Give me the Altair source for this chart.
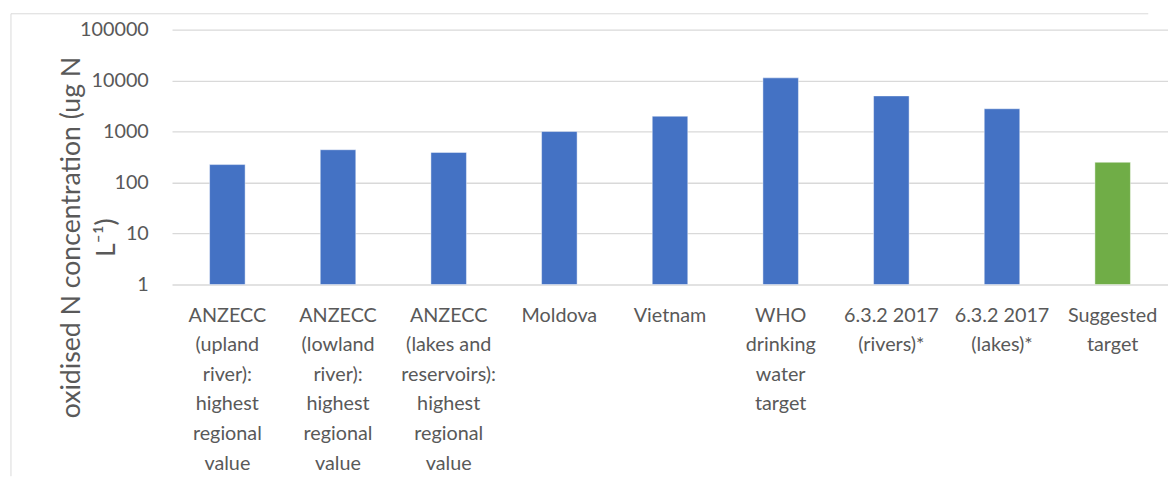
import altair as alt
import pandas as pd

categories = [
    "ANZECC|(upland|river):|highest|regional|value",
    "ANZECC|(lowland|river):|highest|regional|value",
    "ANZECC|(lakes and|reservoirs):|highest|regional|value",
    "Moldova",
    "Vietnam",
    "WHO|drinking|water|target",
    "6.3.2 2017|(rivers)*",
    "6.3.2 2017|(lakes)*",
    "Suggested|target",
]
values = [225, 440, 390, 1000, 2000, 11300, 5000, 2800, 250]
groups = ["Existing"] * 8 + ["Suggested"]
y_ticks = [1, 10, 100, 1000, 10000, 100000]

df = pd.DataFrame({"label": categories, "value": values, "group": groups, "base": [1] * len(values)})

W, H = 988, 258

bars = alt.Chart(df).mark_bar(stroke="#ffffff", strokeOpacity=0.45, strokeWidth=1).encode(
    x=alt.X(
        "label:N",
        sort=categories,
        scale=alt.Scale(paddingInner=0.679, paddingOuter=0.3395, range=[0, 1008]),
        axis=alt.Axis(
            title=None,
            labelExpr="split(datum.label, '|')",
            labelAngle=0,
            labelAlign="center",
            labelBaseline="top",
            labelLineHeight=30,
            labelPadding=21,
            labelFontSize=20,
            labelLimit=300,
            labelOverlap=False,
            labelBound=False,
            domain=False,
            ticks=False,
        ),
    ),
    y=alt.Y(
        "value:Q",
        scale=alt.Scale(type="log", domain=[1, 100000]),
        axis=alt.Axis(
            values=y_ticks,
            format="d",
            grid=True,
            gridColor="#d9d9d9",
            gridWidth=1.3,
            domain=False,
            ticks=False,
            labelPadding=24,
            labelFontSize=20,
            title=["oxidised N concentration (ug N", "L\u207b\u00b9)"],
            titleAngle=270,
            titleX=-102,
            titleY=210,
            titleAlign="center",
            titleBaseline="middle",
            titleLineHeight=36,
            titleFontSize=27,
            titleFontWeight="normal",
        ),
    ),
    y2="base:Q",
    color=alt.Color(
        "group:N",
        scale=alt.Scale(domain=["Existing", "Suggested"], range=["#4472C4", "#70AD47"]),
        legend=None,
    ),
)

one = pd.DataFrame({"k": [0]})
top_rule = alt.Chart(one).mark_rule(color="#d9d9d9", strokeWidth=1).encode(
    x=alt.value(-163), x2=alt.value(W), y=alt.value(-16)
)
left_rule = alt.Chart(one).mark_rule(color="#d9d9d9", strokeWidth=1).encode(
    x=alt.value(-163), y=alt.value(-16), y2=alt.value(452)
)

chart = (
    alt.layer(bars, top_rule, left_rule)
    .properties(
        width=W,
        height=H,
        padding={"left": 2, "top": 2, "right": 0, "bottom": 0},
        background="#ffffff",
    )
    .configure_view(stroke=None)
    .configure_axis(
        labelFont="Lato",
        titleFont="Lato",
        labelColor="#595959",
        titleColor="#595959",
    )
)

chart.save("out.html", embed_options={"renderer": "svg", "actions": False})
